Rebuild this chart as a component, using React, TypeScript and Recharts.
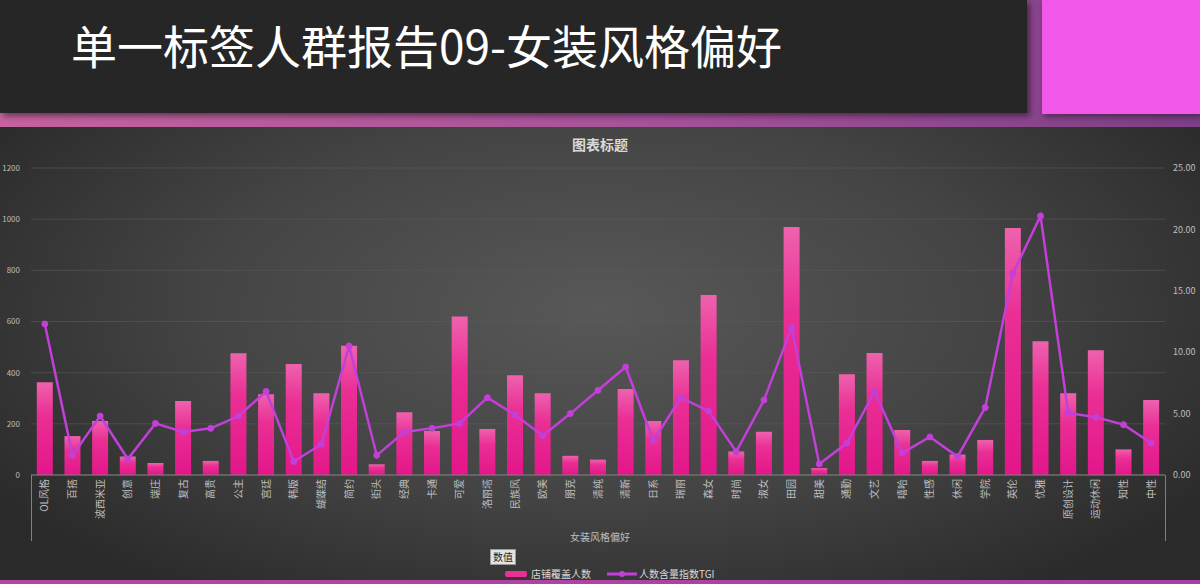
import {
  ComposedChart,
  Bar,
  Line,
  XAxis,
  YAxis,
  CartesianGrid,
} from "recharts";

const categories = [
  "OL风格", "百搭", "波西米亚", "创意", "端庄", "复古", "高贵", "公主", "宫廷", "韩版",
  "蝴蝶结", "简约", "街头", "经典", "卡通", "可爱", "洛丽塔", "民族风", "欧美", "朋克",
  "清纯", "清新", "日系", "瑞丽", "森女", "时尚", "淑女", "田园", "甜美", "通勤",
  "文艺", "嘻哈", "性感", "休闲", "学院", "英伦", "优雅", "原创设计", "运动休闲", "知性",
  "中性",
];

const storeCoverage = [
  363, 152, 211, 72, 47, 289, 55, 476, 316, 434,
  320, 505, 42, 245, 172, 620, 180, 390, 320, 75,
  60, 336, 211, 449, 704, 92, 169, 969, 27, 394,
  477, 176, 55, 80, 137, 965, 523, 320, 488, 100,
  293,
];

const tgiIndex = [
  12.3, 1.6, 4.8, 1.3, 4.2, 3.5, 3.8, 4.8, 6.8, 1.1,
  2.5, 10.5, 1.6, 3.5, 3.8, 4.2, 6.3, 4.9, 3.2, 5.0,
  6.9, 8.8, 2.8, 6.3, 5.2, 1.9, 6.1, 12.0, 0.9, 2.6,
  6.8, 1.8, 3.1, 1.5, 5.5, 16.4, 21.1, 5.05, 4.7, 4.1,
  2.6,
];

const leftTicks = [0, 200, 400, 600, 800, 1000, 1200];
const rightTicks = [0, 5, 10, 15, 20, 25];

const barName = "店铺覆盖人数";
const lineName = "人数含量指数TGI";

const data = categories.map((name, i) => ({
  name,
  coverage: storeCoverage[i],
  tgi: tgiIndex[i],
}));

const FONT = '"Noto Sans CJK SC", "Noto Sans", sans-serif';
const LINE_COLOR = "#c23fd8";

function CategoryTick(props: any) {
  const { x, y, payload } = props;
  return (
    <text
      transform={`translate(${x},${y + 4}) rotate(-90)`}
      textAnchor="end"
      dy="0.35em"
      fontSize={10}
      fill="#bfbfbf"
      fontFamily={FONT}
    >
      {payload.value}
    </text>
  );
}

export default function App() {
  return (
    <div
      style={{
        position: "absolute",
        left: 0,
        top: 0,
        width: 1200,
        height: 584,
        overflow: "hidden",
        fontFamily: FONT,
        background: "#2a2a2a",
      }}
    >
      {/* header band */}
      <div
        style={{
          position: "absolute",
          left: 0,
          top: 0,
          width: 1200,
          height: 127,
          background: "linear-gradient(90deg, #c5629f 0%, #a6529a 55%, #7d3f86 100%)",
        }}
      />
      <div
        style={{
          position: "absolute",
          left: 0,
          top: 0,
          width: 1027,
          height: 113,
          background: "#262626",
          boxShadow: "3px 3px 6px rgba(0,0,0,0.45)",
        }}
      />
      <div
        style={{
          position: "absolute",
          left: 1042,
          top: 0,
          width: 158,
          height: 114,
          background: "#f157e8",
          boxShadow: "2px 3px 6px rgba(0,0,0,0.4)",
        }}
      />
      <div
        style={{
          position: "absolute",
          left: 71,
          top: 13,
          color: "#ffffff",
          fontSize: 46,
          lineHeight: "62px",
          whiteSpace: "nowrap",
        }}
      >
        单一标签人群报告09-女装风格偏好
      </div>

      {/* chart panel */}
      <div
        style={{
          position: "absolute",
          left: 0,
          top: 127,
          width: 1200,
          height: 457,
          background:
            "radial-gradient(ellipse 60% 75% at 50% 40%, #585858 0%, #444444 55%, #2b2b2b 100%)",
        }}
      />
      <div
        style={{
          position: "absolute",
          left: 0,
          top: 134,
          width: 1200,
          textAlign: "center",
          color: "#d9d9d9",
          fontSize: 14,
          fontWeight: 700,
        }}
      >
        图表标题
      </div>

      <div style={{ position: "absolute", left: 0, top: 127 }}>
        <ComposedChart
          width={1200}
          height={457}
          data={data}
          margin={{ top: 41, right: 0, bottom: 0, left: 0 }}
          barCategoryGap="21%"
        >
          <defs>
            <linearGradient id="barFill" x1="0" y1="0" x2="0" y2="1">
              <stop offset="0%" stopColor="#ee62ad" />
              <stop offset="35%" stopColor="#ea2f95" />
              <stop offset="100%" stopColor="#e3168a" />
            </linearGradient>
          </defs>
          <CartesianGrid
            yAxisId="left"
            horizontal
            vertical={false}
            stroke="#5a5a5a"
            strokeOpacity={0.6}
          />
          <XAxis
            dataKey="name"
            height={109}
            interval={0}
            tickLine={false}
            tickSize={0}
            tickMargin={0}
            stroke="#808080"
            tick={<CategoryTick />}
          />
          <YAxis
            yAxisId="left"
            width={31}
            domain={[0, 1200]}
            ticks={leftTicks}
            axisLine={false}
            tickLine={false}
            tickMargin={0}
            tick={{ fill: "#bfbfbf", fontSize: 8, fontFamily: FONT }}
            dx={-5}
          />
          <YAxis
            yAxisId="right"
            orientation="right"
            width={35}
            domain={[0, 25]}
            ticks={rightTicks}
            axisLine={false}
            tickLine={false}
            tickMargin={0}
            tickFormatter={(v: number) => v.toFixed(2)}
            tick={{ fill: "#bfbfbf", fontSize: 9, fontFamily: FONT }}
            dx={2}
          />
          <Bar
            yAxisId="left"
            dataKey="coverage"
            name={barName}
            fill="url(#barFill)"
            isAnimationActive={false}
          />
          <Line
            yAxisId="right"
            dataKey="tgi"
            name={lineName}
            type="linear"
            stroke={LINE_COLOR}
            strokeWidth={2.5}
            dot={{ r: 3, fill: LINE_COLOR, stroke: LINE_COLOR, strokeWidth: 1 }}
            isAnimationActive={false}
          />
        </ComposedChart>
      </div>

      {/* axis box sides below the category axis */}
      <div style={{ position: "absolute", left: 31, top: 475, width: 1, height: 66, background: "#808080" }} />
      <div style={{ position: "absolute", left: 1165, top: 475, width: 1, height: 66, background: "#808080" }} />

      <div
        style={{
          position: "absolute",
          left: 0,
          top: 529,
          width: 1200,
          textAlign: "center",
          color: "#bfbfbf",
          fontSize: 10,
        }}
      >
        女装风格偏好
      </div>

      <div
        style={{
          position: "absolute",
          left: 490,
          top: 549,
          width: 24,
          height: 14,
          background: "#e3e3e3",
          border: "1px solid #9a9a9a",
          color: "#222",
          fontSize: 10,
          lineHeight: "14px",
          textAlign: "center",
        }}
      >
        数值
      </div>

      {/* legend */}
      <div
        style={{
          position: "absolute",
          left: 505,
          top: 566,
          display: "flex",
          alignItems: "center",
          color: "#d9d9d9",
          fontSize: 10,
          whiteSpace: "nowrap",
        }}
      >
        <span style={{ display: "inline-block", width: 22, height: 6, background: "#ea2f95", borderRadius: 2, marginRight: 4 }} />
        <span>{barName}</span>
        <svg width={30} height={10} style={{ marginLeft: 16, marginRight: 2 }}>
          <line x1={0} y1={5} x2={30} y2={5} stroke={LINE_COLOR} strokeWidth={3} />
          <circle cx={15} cy={5} r={3} fill={LINE_COLOR} />
        </svg>
        <span>{lineName}</span>
      </div>

      <div
        style={{
          position: "absolute",
          left: 0,
          top: 580,
          width: 1200,
          height: 4,
          background: "linear-gradient(90deg, #b6479e, #a83ea8)",
        }}
      />
    </div>
  );
}
